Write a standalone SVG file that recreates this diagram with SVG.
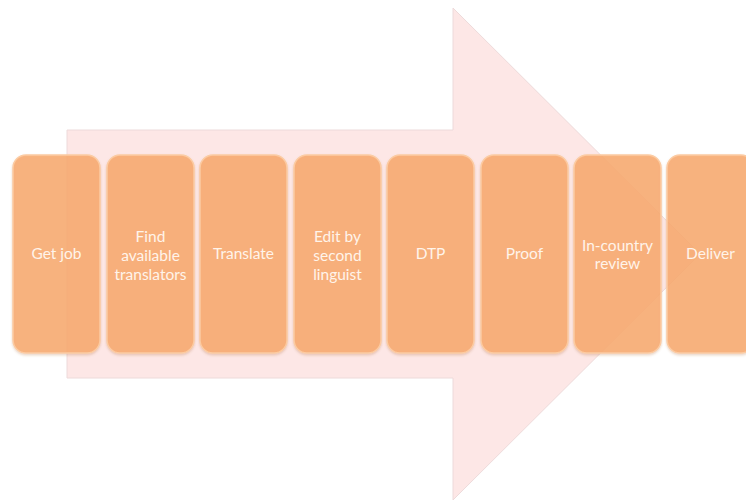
<svg xmlns="http://www.w3.org/2000/svg" width="746" height="500" viewBox="0 0 746 500">
<defs>
<style>
.box{fill:#F9A96E;fill-opacity:0.84;stroke:#FCCBA2;stroke-width:1.5;filter:url(#sh)}
.lbl{font-family:Lato,"Liberation Sans",sans-serif;font-size:15.5px;fill:#FFF4EA;text-anchor:middle}
</style>
<filter id="sh" x="-10%" y="-10%" width="120%" height="120%">
<feDropShadow dx="0" dy="1.5" stdDeviation="1.2" flood-color="#B06A3A" flood-opacity="0.3"/>
</filter>
</defs>
<rect width="746" height="500" fill="#FFFFFF"/>
<g id="arrow">
<polygon points="67,130 453,130 453,8 700,254 453,500 453,378 67,378" fill="#FDE7E6" stroke="#EDDADA" stroke-width="1"/>
</g>
<g id="connectors"></g>
<g id="n1"><rect class="box" x="13" y="155" width="87" height="198" rx="13"/><text class="lbl" x="56.5" y="259">Get job</text></g>
<g id="n2"><rect class="box" x="107" y="155" width="87" height="198" rx="13"/><text class="lbl" x="150.5" y="242">Find</text><text class="lbl" x="150.5" y="261">available</text><text class="lbl" x="150.5" y="280">translators</text></g>
<g id="n3"><rect class="box" x="200" y="155" width="87" height="198" rx="13"/><text class="lbl" x="243.5" y="259">Translate</text></g>
<g id="n4"><rect class="box" x="294" y="155" width="87" height="198" rx="13"/><text class="lbl" x="337.5" y="242">Edit by</text><text class="lbl" x="337.5" y="261">second</text><text class="lbl" x="337.5" y="280">linguist</text></g>
<g id="n5"><rect class="box" x="387" y="155" width="87" height="198" rx="13"/><text class="lbl" x="430.5" y="259">DTP</text></g>
<g id="n6"><rect class="box" x="481" y="155" width="87" height="198" rx="13"/><text class="lbl" x="524.5" y="259">Proof</text></g>
<g id="n7"><rect class="box" x="574" y="155" width="87" height="198" rx="13"/><text class="lbl" x="617.5" y="251">In-country</text><text class="lbl" x="617.5" y="269">review</text></g>
<g id="n8"><rect class="box" x="667" y="155" width="87" height="198" rx="13"/><text class="lbl" x="710.5" y="259">Deliver</text></g>
</svg>
